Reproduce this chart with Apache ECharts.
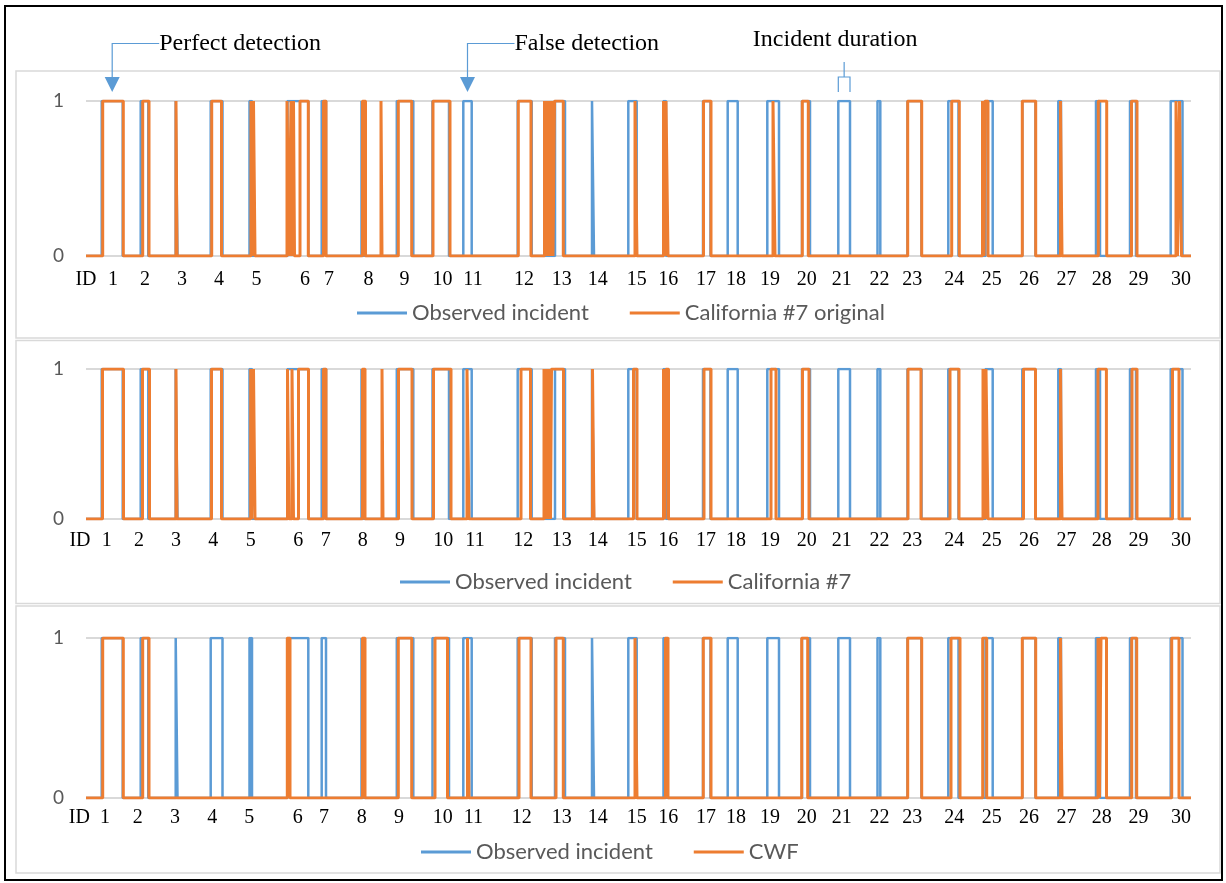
<!DOCTYPE html>
<html>
<head>
<meta charset="utf-8">
<script src="https://cdn.jsdelivr.net/npm/echarts@6/dist/echarts.min.js"></script>
<style>html,body{margin:0;padding:0;background:#fff;}#c{width:1226px;height:883px;}</style>
</head>
<body>
<div id="c"></div>
<script>
// time axis runs 0..1105 (sample index)
const timeMax = 1105;
const timeMin = -8;

// Observed incidents (start, end)
const observedIncident = [
  [15.7,36.7],[54.7,62.3],[89.7,91.5],[124.7,136.5],[163.5,166],[201.5,222.3],[235.7,240],[275.5,277],
  [310.8,327.3],[346.5,363],[377.3,385.7],[431.7,445.7],[469,479],[506,508],[542.3,550.7],[577.5,580],
  [617,624.5],[641.7,651.7],[681.3,693],[716,724],[752.3,764],[791.5,794.3],[821.5,835.5],[862.3,872.5],
  [899.5,906.7],[936.3,949.5],[972.3,975],[1010,1014],[1044,1050],[1084.7,1096.5]
];

// California #7 original detections
const california7Original = [
  [16.7,37.3],[56.7,63],[90,91],[125.7,135.5],[165,166],[167.5,169],[201,203],[205,206],[207.5,208.5],
  [214,222.3],[237.5,240],[276.5,279.5],[295,296],[312.3,325.7],[347,364],[432.3,445],[458.5,459.5],
  [461,462],[463.5,464.5],[466,467],[468.5,477.3],[549,551],[577.5,579],[580,582],[617.5,625],[687,689],
  [716.3,722.3],[821.7,835.7],[865.7,873.3],[896.5,898],[899,902],[936.3,949.7],[974.5,976],
  [1012.3,1020.7],[1045.5,1051],[1090,1091.5],[1093.5,1095.5]
];

// California #7 detections
const california7 = [
  [16.5,37.5],[56.5,63.5],[90,91],[125.5,135.5],[164.7,165.7],[167.5,169],[201.5,203],[206,207.5],
  [212.5,222.5],[237.5,240],[276.5,279],[296,297],[312.5,326],[347.5,365],[381,383],[435,444.5],
  [458,459.5],[460.5,462],[463,464.5],[465.5,477.5],[506.5,508],[547.5,551],[577.5,579],[580,582.5],
  [618,625],[685,690],[716.5,723],[822,835],[864,873],[897,899],[900,902],[937.5,949.5],[974.5,976],
  [1012,1020.4],[1046,1051],[1086.5,1093]
];

// CWF detections
const cwf = [
  [16.7,37.3],[56.7,63],[201.3,204],[276.5,279],[312.3,325.7],[349,361.5],[381.5,383],[433,445],
  [470,477.3],[549,551],[579.5,582],[617.3,625],[715.7,721.7],[821.7,835.7],[865,874],[896.7,900.7],
  [936.3,949.7],[974.5,976],[1012,1013.5],[1015,1020.5],[1045.7,1050.7],[1085.7,1093]
];

// ID tick labels and their positions on the time axis (per panel)
const idLabels = ['ID','1','2','3','4','5','6','7','8','9','10','11','12','13','14','15','16','17','18','19','20','21','22','23','24','25','26','27','28','29','30'];
const idPosTail = [475.7,511.7,550.7,582.3,620,650,684,720.7,755.7,793.5,826.3,868.3,905.7,943,980.5,1015.7,1052.5,1095];
const idPosPanel1 = [0,27,59,96,133,170.5,219,243,282.5,318.5,356.5,387,438].concat(idPosTail);
const idPosPanel2 = [-6,20.7,53,90,127.3,164.7,212.3,239.7,276.7,314,357.3,389,437.3].concat(idPosTail);
const idPosPanel3 = [-6.7,19,51.7,89,126.3,163.3,211.7,238,275.7,313,356.7,387.3,435.7].concat(idPosTail);

const seriesNames = ['California #7 original','California #7','CWF'];
const detections = [california7Original, california7, cwf];
const idPositions = [idPosPanel1, idPosPanel2, idPosPanel3];

const BLUE = '#5b9bd5', ORANGE = '#ed7d31';

function stepData(intervals) {
  const d = [[0,0]];
  intervals.forEach(([s,e]) => { d.push([s,0],[s,1],[e,1],[e,0]); });
  d.push([timeMax,0]);
  return d;
}

const gridTops = [101, 369, 638];
const gridHeights = [155, 150, 160];
const labelMargins = [14, 12, 10];
const legendTops = [302, 571, 841];
const legendLefts = [357, 400, 421];

const chart = echarts.init(document.getElementById('c'), null, {renderer:'canvas'});

const grids = [], xAxes = [], yAxes = [], series = [], legends = [];
for (let i = 0; i < 3; i++) {
  grids.push({left:78, width:1113, top:gridTops[i], height:gridHeights[i], containLabel:false});
  const pos = idPositions[i];
  xAxes.push({
    type:'value', gridIndex:i, min:timeMin, max:timeMax,
    axisLine:{show:false}, axisTick:{show:false}, splitLine:{show:false},
    axisLabel:{
      customValues: pos, margin: labelMargins[i], showMinLabel:true, showMaxLabel:true,
      color:'#000', fontFamily:'Liberation Serif', fontSize:20,
      formatter: (v) => { const k = pos.findIndex(p => Math.abs(p - v) < 1e-6); return k >= 0 ? idLabels[k] : ''; }
    }
  });
  yAxes.push({
    type:'value', gridIndex:i, min:0, max:1, interval:1,
    axisLine:{show:false}, axisTick:{show:false}, splitLine:{show:false},
    axisLabel:{color:'#595959', fontFamily:'Lato', fontSize:19, margin:14}
  });
  // gridlines at levels 0 and 1 over the time span
  series.push({
    name:'grid', type:'line', xAxisIndex:i, yAxisIndex:i, data:[], z:1, silent:true,
    markLine:{
      silent:true, symbol:'none', z:1, label:{show:false}, animation:false,
      lineStyle:{color:'#d9d9d9', width:2, type:'solid'},
      emphasis:{disabled:true},
      data:[[{coord:[0,1]},{coord:[timeMax,1]}],[{coord:[0,0]},{coord:[timeMax,0]}]]
    }
  });
  series.push({
    name:'Observed incident', type:'line', xAxisIndex:i, yAxisIndex:i,
    data: stepData(observedIncident), showSymbol:false, symbol:'none',
    lineStyle:{color:BLUE, width:2.5}, itemStyle:{color:BLUE}, z:2, silent:true
  });
  series.push({
    name:seriesNames[i], type:'line', xAxisIndex:i, yAxisIndex:i,
    data: stepData(detections[i]), showSymbol:false, symbol:'none',
    lineStyle:{color:ORANGE, width:3}, itemStyle:{color:ORANGE}, z:3, silent:true
  });
  legends.push({
    data:['Observed incident', seriesNames[i]], left:legendLefts[i], top:legendTops[i],
    padding:0, itemGap:41, itemWidth:50, itemHeight:3, icon:'rect',
    textStyle:{color:'#595959', fontFamily:'Lato', fontSize:22}, selectedMode:false
  });
}

chart.setOption({
  backgroundColor:'#fff', animation:false,
  grid:grids, xAxis:xAxes, yAxis:yAxes, series:series, legend:legends
});

// Annotations anchored on incident data
const px = v => chart.convertToPixel({xAxisIndex:0}, v);
const inc1 = observedIncident[0], inc11 = observedIncident[10], inc21 = observedIncident[20];
const a1 = px((inc1[0]+inc1[1])/2), a11 = px((inc11[0]+inc11[1])/2);
const b0 = px(inc21[0]), b1 = px(inc21[1]), bm = (b0+b1)/2;
const serif = '24px "Liberation Serif"';
function arrow(ax, label) {
  return [
    {type:'polyline', shape:{points:[[ax+47,43.5],[ax,43.5],[ax,79]]}, style:{stroke:BLUE, lineWidth:1.2, fill:null}},
    {type:'polygon', shape:{points:[[ax-7.5,77],[ax+7.5,77],[ax,92]]}, style:{fill:BLUE}},
    {type:'text', x:ax+47, y:44, style:{text:label, font:serif, fill:'#000', textVerticalAlign:'middle', textAlign:'left'}}
  ];
}
const graphics = [
  {type:'rect', shape:{x:5, y:6, width:1217, height:874}, style:{fill:null, stroke:'#000', lineWidth:2}},
  {type:'rect', shape:{x:16, y:71, width:1204, height:267}, style:{fill:null, stroke:'#d9d9d9', lineWidth:1.5}},
  {type:'rect', shape:{x:16, y:340.5, width:1204, height:263}, style:{fill:null, stroke:'#d9d9d9', lineWidth:1.5}},
  {type:'rect', shape:{x:16, y:606, width:1204, height:267}, style:{fill:null, stroke:'#d9d9d9', lineWidth:1.5}},
  ...arrow(a1, 'Perfect detection'),
  ...arrow(a11, 'False detection'),
  {type:'polyline', shape:{points:[[bm,62],[bm,77]]}, style:{stroke:BLUE, lineWidth:1.2, fill:null}},
  {type:'polyline', shape:{points:[[b0,92],[b0,77],[b1,77],[b1,92]]}, style:{stroke:BLUE, lineWidth:1.2, fill:null}},
  {type:'text', x:bm-9, y:40, style:{text:'Incident duration', font:serif, fill:'#000', textVerticalAlign:'middle', textAlign:'center'}}
];
chart.setOption({graphic:{elements:graphics}});
</script>
</body>
</html>
